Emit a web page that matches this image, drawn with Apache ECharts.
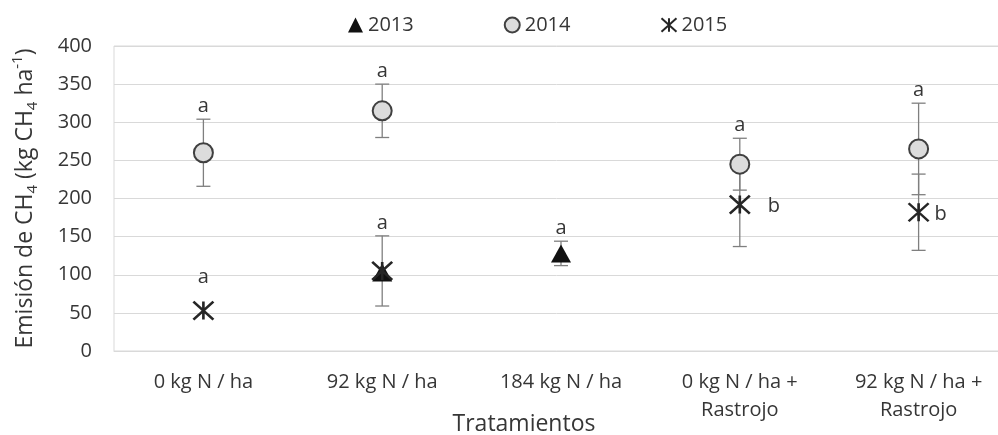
<!DOCTYPE html>
<html>
<head>
<meta charset="utf-8">
<script src="https://cdn.jsdelivr.net/npm/echarts@6/dist/echarts.min.js"></script>
<style>
html,body{margin:0;padding:0;background:#fff;}
#chart{width:998px;height:435px;}
</style>
</head>
<body>
<div id="chart"></div>
<script>
// ---- data ----
const categories = ['0 kg N / ha', '92 kg N / ha', '184 kg N / ha', '0 kg N / ha +\nRastrojo', '92 kg N / ha +\nRastrojo'];
const yMin = 0, yMax = 400, yStep = 50;
const seriesNames = ['2013', '2014', '2015'];
const mean2013 = [null, 103, 128, null, null];
const err2013  = [null, null, 16, null, null];
const mean2014 = [260, 315, null, 245, 265];
const err2014  = [44, 35, null, 34, 60];
const mean2015 = [53, 105, null, 192, 182];
const err2015  = [null, 46, null, 55, 50];
const sig2013 = ['', '', 'a', '', ''];
const sig2014 = ['a', 'a', '', 'a', 'a'];
const sig2015 = ['a', 'a', '', 'b', 'b'];

// ---- style ----
const TXT = '#363636';
const GRID = '#d9d9d9';
const FONT = 'Open Sans';
const sideLetterDx2015 = {3: 34, 4: 22}; // letters drawn to the right of the marker

const means = [mean2013, mean2014, mean2015];
const errs = [err2013, err2014, err2015];
const sigs = [sig2013, sig2014, sig2015];

const errItems = [];
const letterItems = [];
means.forEach((m, s) => {
  m.forEach((v, i) => {
    if (v == null) return;
    const e = errs[s][i];
    if (e != null) errItems.push({i, v, e});
    const t = sigs[s][i];
    if (t) {
      const dx = (s === 2 && sideLetterDx2015[i] != null) ? sideLetterDx2015[i] : null;
      letterItems.push({i, v, e, t, dx});
    }
  });
});

const chart = echarts.init(document.getElementById('chart'), null, {renderer: 'canvas'});

const option = {
  animation: false,
  textStyle: {fontFamily: FONT},
  legend: {
    top: 10,
    left: 343,
    itemWidth: 15,
    itemHeight: 15,
    itemGap: 90,
    textStyle: {fontSize: 20, color: TXT, fontFamily: FONT},
    data: seriesNames
  },
  grid: {
    left: 114, right: -10, top: 46, bottom: 84,
    containLabel: false,
    outerBoundsMode: 'none',
    show: true, borderColor: GRID, borderWidth: 1
  },
  xAxis: {
    type: 'category',
    data: categories,
    boundaryGap: true,
    axisTick: {show: false},
    axisLine: {lineStyle: {color: GRID}},
    axisLabel: {fontSize: 20, color: TXT, lineHeight: 28, margin: 17, interval: 0, fontFamily: FONT},
    name: 'Tratamientos',
    nameLocation: 'middle',
    nameGap: 62,
    nameMoveOverlap: false,
    nameTextStyle: {fontSize: 23, color: TXT, fontFamily: FONT, padding: [0, 74, 0, 0]}
  },
  yAxis: {
    type: 'value',
    min: yMin, max: yMax, interval: yStep,
    axisLine: {show: false},
    axisTick: {show: false},
    splitLine: {lineStyle: {color: GRID}},
    axisLabel: {fontSize: 20, color: TXT, margin: 22, fontFamily: FONT},
    name: '{t|Emisión de CH}{sub|4}{t| (kg CH}{sub|4}{t| ha}{sup|-1}{t|)}',
    nameLocation: 'middle',
    nameGap: 74,
    nameRotate: 90,
    nameMoveOverlap: false,
    nameTextStyle: {
      fontSize: 23, color: TXT, fontFamily: FONT,
      rich: {
        t: {fontSize: 23, color: TXT, fontFamily: FONT, lineHeight: 30, verticalAlign: 'middle'},
        sub: {fontSize: 15, color: TXT, fontFamily: FONT, lineHeight: 15, verticalAlign: 'bottom'},
        sup: {fontSize: 15, color: TXT, fontFamily: FONT, lineHeight: 15, verticalAlign: 'top'}
      }
    }
  },
  series: [
    {
      type: 'custom',
      name: 'errors',
      z: 1,
      clip: false,
      silent: true,
      data: errItems.map(d => [d.i, d.v, d.e]),
      renderItem: function (params, api) {
        const x = api.value(0), v = api.value(1), e = api.value(2);
        const top = api.coord([x, v + e]);
        const bot = api.coord([x, v - e]);
        const hw = 7;
        const st = {stroke: '#7f7f7f', lineWidth: 1.3};
        return {
          type: 'group',
          children: [
            {type: 'line', shape: {x1: top[0], y1: top[1], x2: bot[0], y2: bot[1]}, style: st},
            {type: 'line', shape: {x1: top[0] - hw, y1: top[1], x2: top[0] + hw, y2: top[1]}, style: st},
            {type: 'line', shape: {x1: bot[0] - hw, y1: bot[1], x2: bot[0] + hw, y2: bot[1]}, style: st}
          ]
        };
      }
    },
    {
      name: '2013',
      type: 'scatter',
      z: 3,
      symbol: 'triangle',
      symbolSize: [20, 18],
      itemStyle: {color: '#111111', opacity: 1},
      data: mean2013
    },
    {
      name: '2014',
      type: 'scatter',
      z: 3,
      symbol: 'circle',
      symbolSize: 19,
      itemStyle: {color: '#dcdcdc', borderColor: '#404040', borderWidth: 2, opacity: 1},
      data: mean2014
    },
    {
      name: '2015',
      type: 'scatter',
      z: 4,
      symbol: 'path://M0,0L20,18M20,0L0,18M10,0L10,18',
      symbolSize: [20, 18],
      itemStyle: {color: '#262626', borderColor: '#262626', borderWidth: 2.5, opacity: 1},
      data: mean2015
    },
    {
      type: 'custom',
      name: 'letters',
      z: 5,
      clip: false,
      silent: true,
      data: letterItems.map(d => [d.i, d.e ? d.v + d.e : d.v]),
      renderItem: function (params, api) {
        const it = letterItems[params.dataIndex];
        let x, y;
        if (it.dx != null) {
          const p = api.coord([it.i, it.v]);
          x = p[0] + it.dx; y = p[1] + 2;
        } else {
          const p = api.coord([api.value(0), api.value(1)]);
          x = p[0]; y = p[1] - (it.e ? 12.5 : 33);
        }
        return {
          type: 'text',
          x: x, y: y,
          style: {text: it.t, fill: TXT, fontSize: 20, fontFamily: FONT, align: 'center', verticalAlign: 'middle'}
        };
      }
    }
  ]
};
chart.setOption(option);
</script>
</body>
</html>
